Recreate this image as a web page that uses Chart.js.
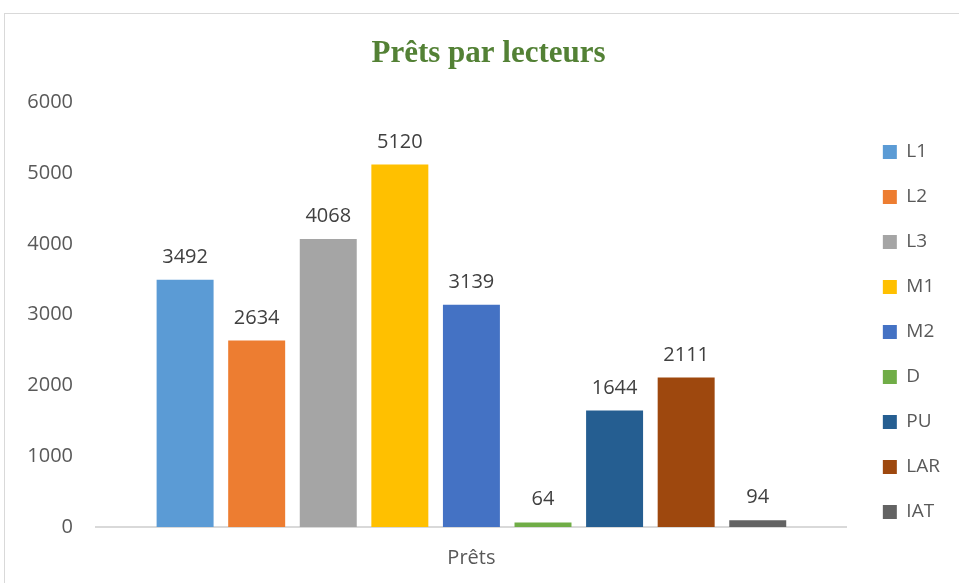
<!DOCTYPE html>
<html>
<head>
<meta charset="utf-8">
<script src="https://cdn.jsdelivr.net/npm/chart.js@4.4.1/dist/chart.umd.min.js"></script>
<style>
  html, body { margin: 0; padding: 0; background: #fff; overflow: hidden; }
  #frame { position: absolute; left: 4px; top: 13px; width: 1000px; height: 620px; border: 1px solid #d9d9d9; }
  #box { position: absolute; left: 0; top: 0; width: 959px; height: 583px; }
</style>
</head>
<body>
<div id="frame"></div>
<div id="box"><canvas id="chart"></canvas></div>
<script>
// ---- Data ----
const categories = ['Prêts'];
const seriesNames = ['L1', 'L2', 'L3', 'M1', 'M2', 'D', 'PU', 'LAR', 'IAT'];
const seriesValues = [3492, 2634, 4068, 5120, 3139, 64, 1644, 2111, 94];
const seriesColors = ['#5b9bd5', '#ed7d31', '#a5a5a5', '#ffc000', '#4472c4', '#70ad47', '#255e91', '#9e480e', '#636363'];
const yTicks = [0, 1000, 2000, 3000, 4000, 5000, 6000];

const textGray = '#595959';
const padLeft = 27;

// value labels above each bar
const barLabels = {
  id: 'barLabels',
  afterDatasetsDraw(chart) {
    const ctx = chart.ctx;
    ctx.save();
    ctx.font = '20px "Open Sans"';
    ctx.fillStyle = '#404040';
    ctx.textAlign = 'center';
    ctx.textBaseline = 'alphabetic';
    chart.data.datasets.forEach((ds, i) => {
      chart.getDatasetMeta(i).data.forEach((bar, j) => {
        ctx.fillText(String(ds.data[j]), bar.x, bar.y - 17);
      });
    });
    ctx.restore();
  }
};

const datasets = seriesNames.map((name, i) => ({
  label: name,
  data: [seriesValues[i]],
  backgroundColor: seriesColors[i],
  borderWidth: 0,
  categoryPercentage: 0.858,
  barPercentage: 0.796
}));

new Chart(document.getElementById('chart'), {
  type: 'bar',
  data: { labels: categories, datasets },
  plugins: [barLabels],
  options: {
    responsive: true,
    maintainAspectRatio: false,
    animation: false,
    devicePixelRatio: 1,
    layout: { padding: { left: padLeft, right: 9, top: 0, bottom: 0 } },
    plugins: {
      tooltip: { enabled: false },
      title: {
        display: true,
        text: 'Prêts par lecteurs',
        color: '#538135',
        font: { family: '"Liberation Serif"', size: 31, weight: 'bold', lineHeight: 1.2 },
        padding: { top: 35, bottom: 30 }
      },
      legend: {
        position: 'right',
        title: { display: true, text: ' ', font: { size: 10, lineHeight: 1.2 }, padding: { top: 69, bottom: 0 } },
        labels: {
          boxWidth: 14,
          boxHeight: 14,
          padding: 26,
          color: textGray,
          font: { family: '"Open Sans"', size: 19 }
        }
      }
    },
    scales: {
      x: {
        grid: { display: false, drawTicks: false },
        border: { display: true, color: '#d9d9d9', width: 2 },
        ticks: { color: textGray, padding: 19, font: { family: '"Open Sans"', size: 20 } },
        afterFit(scale) { scale.height = 56; }
      },
      y: {
        min: 0,
        max: 6000,
        grid: { display: false, drawTicks: false },
        border: { display: false },
        afterBuildTicks(scale) { scale.ticks = yTicks.map(v => ({ value: v })); },
        ticks: {
          color: textGray,
          padding: 23,
          font: { family: '"Open Sans"', size: 20 },
          callback: v => String(v)
        },
        afterFit(scale) { scale.width = 96 - padLeft; }
      },
      y2: {
        position: 'right',
        display: true,
        grid: { display: false, drawTicks: false },
        border: { display: false },
        ticks: { display: false },
        afterFit(scale) { scale.width = 10; }
      }
    }
  }
});
</script>
</body>
</html>
